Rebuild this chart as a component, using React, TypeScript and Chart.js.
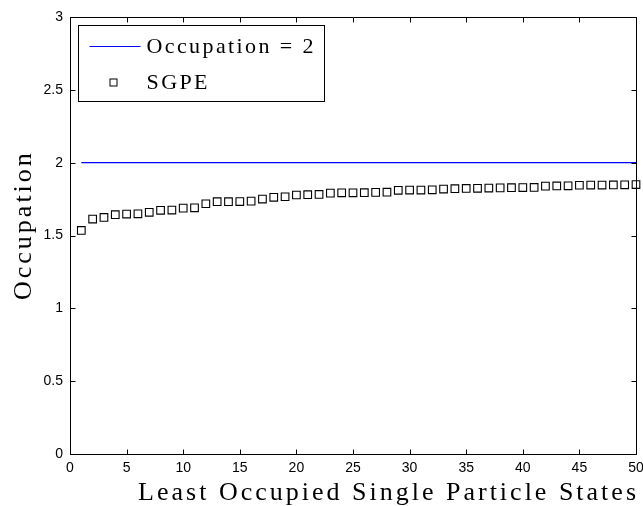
import { useEffect, useRef } from "react";
import { Chart, registerables } from "chart.js";

Chart.register(...registerables);

// Axis ticks
const xTickValues = [0, 5, 10, 15, 20, 25, 30, 35, 40, 45, 50];
const yTickValues = [0, 0.5, 1, 1.5, 2, 2.5, 3];

// Reference level (Occupation = 2), drawn across the states
const levelStates = [1, 50];
const levelValues = [2, 2];

// SGPE occupation of the 50 least occupied single particle states
const sgpeOccupation = [
  1.535, 1.613, 1.624, 1.643, 1.647, 1.649, 1.659, 1.673, 1.675, 1.688,
  1.69, 1.718, 1.732, 1.732, 1.733, 1.736, 1.75, 1.762, 1.766, 1.778,
  1.78, 1.782, 1.791, 1.793, 1.793, 1.794, 1.796, 1.797, 1.81, 1.812,
  1.812, 1.814, 1.819, 1.821, 1.823, 1.824, 1.826, 1.827, 1.828, 1.829,
  1.83, 1.839, 1.84, 1.841, 1.845, 1.846, 1.846, 1.847, 1.848, 1.85,
];

const xTitle = "Least Occupied Single Particle States";
const yTitle = "Occupation";
const levelLabel = "Occupation = 2";
const sgpeLabel = "SGPE";

const TICK_FAMILY = "'Liberation Sans', Arial, Helvetica, sans-serif";
const SERIF = "'Liberation Serif', 'Times New Roman', serif";
const BLUE = "#0000ff";

// Box frame with inward ticks on all four sides, boxed legend, serif axis titles
const framePlugin = {
  id: "matlabFrame",
  afterDatasetsDraw(chart: any) {
    const { ctx, chartArea: a, scales } = chart;
    const xs = scales.x;
    const ys = scales.y;
    const L = Math.round(a.left) + 0.5;
    const R = Math.round(a.right) + 0.5;
    const T = Math.round(a.top) + 0.5;
    const B = Math.round(a.bottom) + 0.5;
    ctx.save();
    ctx.strokeStyle = "#000";
    ctx.lineWidth = 1;
    ctx.beginPath();
    ctx.rect(L, T, R - L, B - T);
    const tl = 5;
    xTickValues.forEach((v) => {
      const px = Math.round(xs.getPixelForValue(v)) + 0.5;
      ctx.moveTo(px, B);
      ctx.lineTo(px, B - tl);
      ctx.moveTo(px, T);
      ctx.lineTo(px, T + tl);
    });
    yTickValues.forEach((v) => {
      const py = Math.round(ys.getPixelForValue(v)) + 0.5;
      ctx.moveTo(L, py);
      ctx.lineTo(L + tl, py);
      ctx.moveTo(R, py);
      ctx.lineTo(R - tl, py);
    });
    ctx.stroke();

    // Legend box
    const lx = L + 8;
    const ly = T + 8;
    const lw = 246;
    const lh = 76;
    ctx.fillStyle = "#fff";
    ctx.fillRect(lx, ly, lw, lh);
    ctx.strokeRect(lx, ly, lw, lh);
    const row1 = ly + 21;
    const row2 = ly + 57;
    ctx.strokeStyle = BLUE;
    ctx.lineWidth = 1.2;
    ctx.beginPath();
    ctx.moveTo(lx + 11, row1);
    ctx.lineTo(lx + 62, row1);
    ctx.stroke();
    ctx.strokeStyle = "#000";
    ctx.lineWidth = 1;
    ctx.strokeRect(lx + 31.5, row2 - 3.5, 7, 7);
    ctx.fillStyle = "#000";
    ctx.font = `22px ${SERIF}`;
    ctx.textBaseline = "middle";
    ctx.textAlign = "left";
    (ctx as any).letterSpacing = "2.4px";
    ctx.fillText(levelLabel, lx + 68, row1 + 1);
    ctx.fillText(sgpeLabel, lx + 68, row2 + 1);
    ctx.restore();
  },
  afterDraw(chart: any) {
    const { ctx, chartArea: a } = chart;
    ctx.save();
    ctx.fillStyle = "#000";
    ctx.font = `26px ${SERIF}`;
    (ctx as any).letterSpacing = "3px";
    ctx.textBaseline = "alphabetic";
    ctx.textAlign = "right";
    ctx.fillText(xTitle, a.right + 3, a.bottom + 46);
    ctx.translate(31, 300);
    ctx.rotate(-Math.PI / 2);
    ctx.textAlign = "left";
    ctx.fillText(yTitle, 0, 0);
    ctx.restore();
  },
};

export default function App() {
  const canvasRef = useRef<HTMLCanvasElement | null>(null);

  useEffect(() => {
    document.body.style.margin = "0";
    const canvas = canvasRef.current;
    if (!canvas) return;
    const stateIndex = sgpeOccupation.map((_, i) => i + 1);
    const chart = new Chart(canvas, {
      type: "scatter",
      data: {
        datasets: [
          {
            label: sgpeLabel,
            data: stateIndex.map((s, i) => ({ x: s, y: sgpeOccupation[i] })),
            pointStyle: "rect",
            pointRadius: 5.4,
            pointHoverRadius: 5.4,
            borderColor: "#000",
            backgroundColor: "rgba(0,0,0,0)",
            borderWidth: 1.1,
            showLine: false,
            clip: false,
            order: 1,
          },
          {
            label: levelLabel,
            data: levelStates.map((s, i) => ({ x: s, y: levelValues[i] })),
            showLine: true,
            borderColor: BLUE,
            borderWidth: 1.2,
            pointRadius: 0,
            fill: false,
            order: 2,
          },
        ],
      },
      options: {
        animation: false,
        responsive: false,
        devicePixelRatio: 1,
        events: [],
        layout: { padding: { top: 17, right: 7, bottom: 0, left: 0 } },
        plugins: {
          legend: { display: false },
          tooltip: { enabled: false },
        },
        scales: {
          x: {
            type: "linear",
            min: 0,
            max: 50,
            afterBuildTicks: (s: any) => {
              s.ticks = xTickValues.map((v) => ({ value: v }));
            },
            afterFit: (s: any) => {
              s.height = 52;
              s.paddingLeft = 0;
              s.paddingRight = 0;
            },
            grid: { display: false, drawTicks: false },
            border: { display: false },
            ticks: {
              padding: 6,
              color: "#000",
              maxRotation: 0,
              autoSkip: false,
              font: { family: TICK_FAMILY, size: 14 },
              callback: (v: any) => String(v),
            },
          },
          y: {
            type: "linear",
            min: 0,
            max: 3,
            afterBuildTicks: (s: any) => {
              s.ticks = yTickValues.map((v) => ({ value: v }));
            },
            afterFit: (s: any) => {
              s.width = 70;
            },
            grid: { display: false, drawTicks: false },
            border: { display: false },
            ticks: {
              padding: 7,
              color: "#000",
              autoSkip: false,
              font: { family: TICK_FAMILY, size: 14 },
              callback: (v: any) => String(v),
            },
          },
        },
      },
      plugins: [framePlugin],
    });
    return () => chart.destroy();
  }, []);

  return (
    <div style={{ position: "absolute", left: 0, top: 0, width: 643, height: 506, background: "#fff" }}>
      <canvas ref={canvasRef} width={643} height={506} />
    </div>
  );
}
